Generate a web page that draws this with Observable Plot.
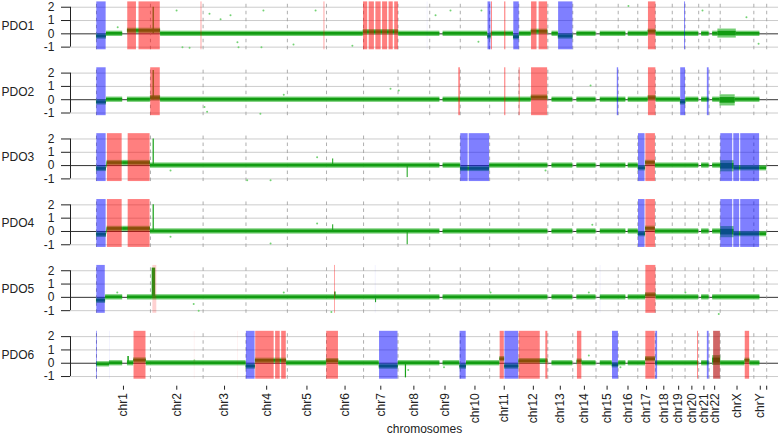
<!DOCTYPE html>
<html><head><meta charset="utf-8">
<script src="https://cdn.jsdelivr.net/npm/d3@7"></script>
<script src="https://cdn.jsdelivr.net/npm/@observablehq/plot@0.6"></script>
<style>body{margin:0;background:#fff}svg{display:block}</style>
</head><body><div id="chart"></div>
<script>
const panels = ["PDO1","PDO2","PDO3","PDO4","PDO5","PDO6"];
const chromNames = ["chr1","chr2","chr3","chr4","chr5","chr6","chr7","chr8","chr9","chr10","chr11","chr12","chr13","chr14","chr15","chr16","chr17","chr18","chr19","chr20","chr21","chr22","chrX","chrY"];
const chromLengths = [249.25,243.2,198.0,191.15,180.9,171.1,159.1,146.4,141.2,135.5,135.0,133.85,115.2,107.3,102.5,90.35,81.2,78.1,59.1,63.0,48.1,51.3,155.3,59.4];
const yTicks = [-1, 0, 1, 2];
const xLabel = "chromosomes";
// genome positions (Mb) without probe coverage
const gaps = [[121,143],[1586,1601],[2084.7,2104],[2199.9,2219],[2307.2,2327],[2445,2456],[2781.4,2795],[2829.5,2846],[3064,3095.5]];

// copy-number calls: [start Mb, end Mb, type]
const cnvPDO1 = [[0,46,"loss"],[143,186,"gain"],[195,296,"gain"],[482,488,"gain"],[1050,1056,"gain"],[1232,1254,"gain"],[1258,1285,"gain"],[1289,1316,"gain"],[1320,1346,"gain"],[1350,1372,"gain"],[1376,1396,"gain"],[1527,1531,"lossFaint"],[1807,1823,"loss"],[1823,1830,"gain"],[1884,1892,"gain"],[1926,1954,"loss"],[2008,2036,"gain"],[2043,2085,"gain"],[2133,2202,"loss"],[2548,2585,"gain"],[2715,2722,"loss"]];
const cnvPDO2 = [[0,46,"loss"],[249,296,"gain"],[1672,1682,"gain"],[1884,1892,"gain"],[1951,1958,"gain"],[2008,2085,"gain"],[2404,2413,"loss"],[2548,2585,"gain"],[2697,2722,"loss"],[2820,2831,"loss"]];
const cnvPDO3 = [[0,46,"loss"],[49,120,"gain"],[145,249,"gain"],[1681,1718,"loss"],[1720,1817,"loss"],[2502,2535,"loss"],[2536,2583,"gain"],[2882,2940,"loss"],[2942,2972,"loss"],[2974,3064,"loss"]];
const cnvPDO4 = [[0,46,"loss"],[49,120,"gain"],[145,249,"gain"],[2502,2535,"loss"],[2536,2583,"gain"],[2882,2940,"loss"],[2942,2972,"loss"],[2974,3064,"loss"]];
const cnvPDO5 = [[0,42,"loss"],[259,280,"gainFaint"],[1098,1104,"gain"],[1287,1291,"lossFaint"],[2326,2330,"lossFaint"],[2536,2585,"gain"]];
const cnvPDO6 = [[0,6,"loss"],[60,64,"lossFaint"],[172,230,"gain"],[451,455,"gainFaint"],[650,654,"gainFaint"],[691,734,"loss"],[734,822,"gain"],[826,850,"gain"],[854,878,"gain"],[1062,1119,"gain"],[1306,1394,"loss"],[1678,1709,"loss"],[1863,1885,"gain"],[1885,1951,"loss"],[1951,2051,"gain"],[2074,2086,"gain"],[2220,2243,"gain"],[2382,2412,"loss"],[2536,2582,"gain"],[2582,2593,"loss"],[2775,2782,"gain"],[2820,2831,"loss"],[2849,2883,"gainDark"],[2995,3018,"gain"]];

// log-ratio levels of segments: [start Mb, end Mb, level, spread]
const levelPDO1 = [[0,46,-0.2],[143,296,0.22],[1232,1396,0.12],[1807,1823,-0.2],[1926,1954,-0.25],[2008,2085,0.15],[2133,2202,-0.2],[2548,2585,0.15],[2870,2955,0.02,0.34]];
const levelPDO2 = [[0,46,-0.2],[249,296,0.12],[2008,2085,0.15],[2548,2585,0.12],[2697,2722,-0.2],[2880,2950,-0.05,0.42]];
const levelPDO3 = [[0,46,-0.25],[49,249.25,0.19],[1681,1816,-0.25],[2502,2536,-0.2],[2536,2581,0.2],[2882,2945,-0.05,0.42],[2945,3095.5,-0.2]];
const levelPDO4 = [[0,46,-0.25],[49,249.25,0.19],[2502,2536,-0.2],[2536,2581,0.2],[2882,2945,-0.05,0.42],[2945,3095.5,-0.2]];
const levelPDO5 = [[0,42,-0.25],[2536,2585,0.15]];
const levelPDO6 = [[0,60,-0.08],[172,230,0.2],[691,734,-0.25],[734,878,0.18],[1062,1119,0.15],[1306,1394,-0.25],[1678,1709,-0.25],[1863,1885,0.3],[1885,1951,-0.25],[1951,2086,0.15],[2220,2243,0.12],[2382,2412,-0.15],[2536,2582,0.3],[2846,2883,0.2,0.37],[2995,3018,0.18]];

// narrow spikes: [panel, position Mb, top value, width]
const spikes = [["PDO1",262,2.0,1.2],["PDO2",262,2.2,1.2],["PDO3",262,2.0,1.2],["PDO3",1091,0.5,1],["PDO3",1435,-0.9,1],["PDO4",262,2.0,1.2],["PDO4",1091,0.5,1],["PDO4",1435,-1.0,1],["PDO5",263,2.2,3.5],["PDO5",1101,0.4,1.5],["PDO5",1289,-0.4,1],["PDO6",146,0.5,1.5],["PDO6",1427,-1.1,1.2]];

// scattered single probes: [panel, position Mb, value]
const outliers = [["PDO1",522,1.5],["PDO1",573,1.1],["PDO1",619,1.4],["PDO1",651,-0.63],["PDO1",656,-1.0],["PDO1",430,-1.05],["PDO1",370,1.75],["PDO1",771,1.75],["PDO1",1012,1.75],["PDO1",762,-1.0],["PDO1",910,-0.8],["PDO1",1182,-0.9],["PDO1",1566,1.4],["PDO1",1635,1.75],["PDO1",1778,1.75],["PDO1",1764,-0.6],["PDO1",2457,2.1],["PDO1",2799,1.75],["PDO1",3002,1.25],["PDO1",3058,-0.75],["PDO1",98,0.5],["PDO1",397,-1.0],
["PDO2",757,-1.05],["PDO2",865,0.38],["PDO2",1358,0.83],["PDO2",1396,0.7],["PDO2",2282,1.07],["PDO2",499,-0.55],["PDO2",511,-0.9],
["PDO3",1019,0.62],["PDO3",804,-1.1],["PDO3",696,-1.1],["PDO3",342,-0.37],["PDO3",2074,-0.37],
["PDO4",1019,0.6],["PDO4",342,-0.4],["PDO4",804,-0.9],["PDO4",2290,0.5],
["PDO5",472,-1.0],["PDO5",449,-0.5],["PDO5",96,0.37],["PDO5",865,0.37],["PDO5",1085,-1.1],["PDO5",1820,0.37],["PDO5",2274,0.37],["PDO5",2720,0.37],["PDO5",2874,-1.25],
["PDO6",1605,-0.3],["PDO6",2274,0.58],["PDO6",2420,-0.3],["PDO6",452,0.2],["PDO6",1440,-0.5]];

const cnvByPanel = {PDO1:cnvPDO1,PDO2:cnvPDO2,PDO3:cnvPDO3,PDO4:cnvPDO4,PDO5:cnvPDO5,PDO6:cnvPDO6};
const levelByPanel = {PDO1:levelPDO1,PDO2:levelPDO2,PDO3:levelPDO3,PDO4:levelPDO4,PDO5:levelPDO5,PDO6:levelPDO6};

// derived tables
const starts = d3.cumsum([0, ...chromLengths]);
const genomeEnd = starts[starts.length - 1];
const centers = chromNames.map((n, i) => ({name: n, pos: (starts[i] + starts[i + 1]) / 2}));
const tickPositions = [...centers.map(d => d.pos), genomeEnd];
const labelOf = new Map(centers.map(d => [d.pos, d.name]));

const cnv = panels.flatMap(p => cnvByPanel[p].map(([s, e, t]) => ({panel: p, s, e, t})));
const fillOf = {gain: "#ff0000", loss: "#0000ff", gainFaint: "#ff0000", lossFaint: "#0000ff", gainDark: "#b00000"};
const opacityOf = {gain: 0.5, loss: 0.5, gainFaint: 0.18, lossFaint: 0.18, gainDark: 0.6};
const defaultSpread = 0.2;

function greenBands(panel) {
  const segs = levelByPanel[panel].map(([s, e, l, sp]) => ({s, e, l, sp: sp ?? defaultSpread}));
  const cuts = new Set([0, genomeEnd]);
  gaps.forEach(([a, b]) => { cuts.add(a); cuts.add(b); });
  segs.forEach(d => { cuts.add(d.s); cuts.add(d.e); });
  const c = [...cuts].sort((a, b) => a - b);
  const out = [];
  for (let i = 0; i < c.length - 1; i++) {
    const a = c[i], b = c[i + 1], m = (a + b) / 2;
    const seg = segs.find(d => d.s <= m && m <= d.e);
    const inGap = gaps.some(([g0, g1]) => g0 < m && m < g1);
    if (inGap && !seg) continue;
    out.push({panel, x1: a, x2: b, level: seg ? seg.l : 0, spread: seg ? seg.sp : defaultSpread});
  }
  return out;
}
const bands = panels.flatMap(greenBands);
const spikeData = spikes.map(([panel, pos, top, w]) => ({panel, pos, top, w}));
const outlierData = outliers.map(([panel, pos, v]) => ({panel, pos, v}));

const chart = Plot.plot({
  width: 778, height: 439,
  marginLeft: 70, marginRight: 0, marginTop: 1.4, marginBottom: 60.3,
  style: {fontFamily: "'Liberation Sans', Arial, Helvetica, sans-serif", fontSize: "12px", background: "#fff", color: "#222"},
  x: {domain: [-120, 3150], axis: null},
  y: {domain: [-1.2, 2.4], axis: null},
  fy: {domain: panels, axis: null, paddingInner: 0.273, paddingOuter: 0, round: false},
  marks: [
    Plot.ruleY([-1, 1, 2], {stroke: "#cccccc", strokeWidth: 1}),
    Plot.ruleY([0], {stroke: "#333", strokeWidth: 1}),
    Plot.ruleX(starts, {y1: -1.2, y2: 2.4, stroke: "#999", strokeWidth: 0.8, strokeDasharray: "3.5,3.5"}),
    Plot.dot(outlierData, {x: "pos", y: "v", fy: "panel", r: 1, fill: "#74d274", stroke: null}),
    Plot.rect(bands, {x1: "x1", x2: "x2", y1: d => d.level - d.spread, y2: d => d.level + d.spread, fy: "panel", fill: "#52c252", fillOpacity: 0.8}),
    Plot.rect(bands, {x1: "x1", x2: "x2", y1: d => d.level - d.spread * 0.5, y2: d => d.level + d.spread * 0.5, fy: "panel", fill: "#129c12"}),
    Plot.ruleX(spikeData, {x: "pos", y1: 0, y2: "top", fy: "panel", stroke: "#16a016", strokeWidth: "w"}),
    Plot.rect(cnv, {x1: "s", x2: "e", y1: -1.2, y2: 2.4, fy: "panel", fill: d => fillOf[d.t], fillOpacity: d => opacityOf[d.t], insetLeft: 0.3, insetRight: 0.3}),
    Plot.ruleX([-120], {y1: -1, y2: 2, stroke: "#222"}),
    Plot.axisY(yTicks, {tickSize: 9, tickPadding: 7, tickFormat: d => String(d), fontSize: 12, label: null, stroke: "#222"}),
    Plot.axisX(tickPositions, {tickFormat: d => labelOf.get(d) ?? "", tickRotate: -90, tickSize: 4, tickPadding: 3, dy: 7, fontSize: 12, label: null, stroke: "#222"}),
    Plot.text(panels, {fy: d => d, text: d => d, frameAnchor: "left", y: 0.6, dx: -69, textAnchor: "start", fontSize: 12}),
    Plot.text([xLabel], {fy: () => "PDO6", text: d => d, frameAnchor: "bottom", dy: 54, fontSize: 12})
  ]
});
document.getElementById("chart").appendChild(chart);
</script>
</body></html>
